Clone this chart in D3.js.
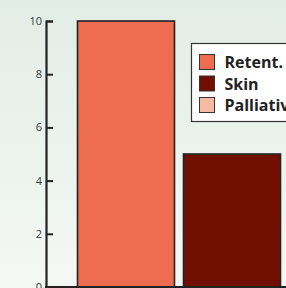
<!DOCTYPE html>
<html>
<head>
<meta charset="utf-8">
<script src="https://cdn.jsdelivr.net/npm/d3@7"></script>
<style>
  html, body { margin: 0; padding: 0; overflow: hidden; }
  svg { display: block; }
</style>
</head>
<body>
<svg id="svg"></svg>
<script>
// chart data
var categories = ["Retent.", "Skin", "Palliative"];
var values = [10, 5, 3];
var colors = ["#ee6d51", "#700f00", "#f7b8a4"];
var yTicks = [0, 2, 4, 6, 8, 10];

var width = 286, height = 288;
var svg = d3.select("#svg").attr("width", width).attr("height", height);

// background gradient
var defs = svg.append("defs");
var grad = defs.append("linearGradient").attr("id", "bg")
    .attr("x1", 0).attr("y1", 0).attr("x2", 0).attr("y2", 1);
grad.append("stop").attr("offset", "0%").attr("stop-color", "#e2ede6");
grad.append("stop").attr("offset", "100%").attr("stop-color", "#f4f8f4");
svg.append("rect").attr("width", width).attr("height", height).attr("fill", "url(#bg)");

var x = d3.scaleBand()
    .domain(categories)
    .range([73, 391])
    .paddingInner(0.085)
    .paddingOuter(0.0425);

var y = d3.scaleLinear().domain([0, 10]).range([287, 21]);

// bars
svg.selectAll("rect.bar")
    .data(categories)
    .join("rect")
    .attr("class", "bar")
    .attr("x", d => x(d))
    .attr("y", (d, i) => y(values[i]))
    .attr("width", x.bandwidth())
    .attr("height", (d, i) => y(0) - y(values[i]))
    .attr("fill", (d, i) => colors[i])
    .attr("stroke", "#222")
    .attr("stroke-width", 1.6);

// y axis
var yAxis = d3.axisLeft(y).tickValues(yTicks).tickSize(-7).tickPadding(4);
var ga = svg.append("g").attr("transform", "translate(46,0)").call(yAxis);
ga.select(".domain").attr("stroke", "#222").attr("stroke-width", 2.2);
ga.selectAll(".tick line").attr("stroke", "#222").attr("stroke-width", 2);
ga.selectAll(".tick text")
    .attr("fill", "#3a3a3a")
    .attr("x", -4)
    .style("font-family", "'Open Sans', sans-serif")
    .style("font-size", "11px");

// baseline
svg.append("line")
    .attr("x1", 45).attr("x2", width)
    .attr("y1", y(0)).attr("y2", y(0))
    .attr("stroke", "#222").attr("stroke-width", 2.2);

// legend
var legend = svg.append("g").attr("transform", "translate(191.5,43.5)");
legend.append("rect")
    .attr("width", 130).attr("height", 78)
    .attr("fill", "#ffffff").attr("stroke", "#333").attr("stroke-width", 1.2);

var rows = legend.selectAll("g.row")
    .data(categories)
    .join("g")
    .attr("class", "row")
    .attr("transform", (d, i) => "translate(8," + (11 + i * 21.5) + ")");

rows.append("rect")
    .attr("width", 15).attr("height", 15)
    .attr("fill", (d, i) => colors[i])
    .attr("stroke", "#333").attr("stroke-width", 1);

rows.append("text")
    .attr("x", 25).attr("y", 13.5)
    .attr("fill", "#222")
    .style("font-family", "'Open Sans', sans-serif")
    .style("font-weight", "bold")
    .style("font-size", "16px")
    .text(d => d);
</script>
</body>
</html>
